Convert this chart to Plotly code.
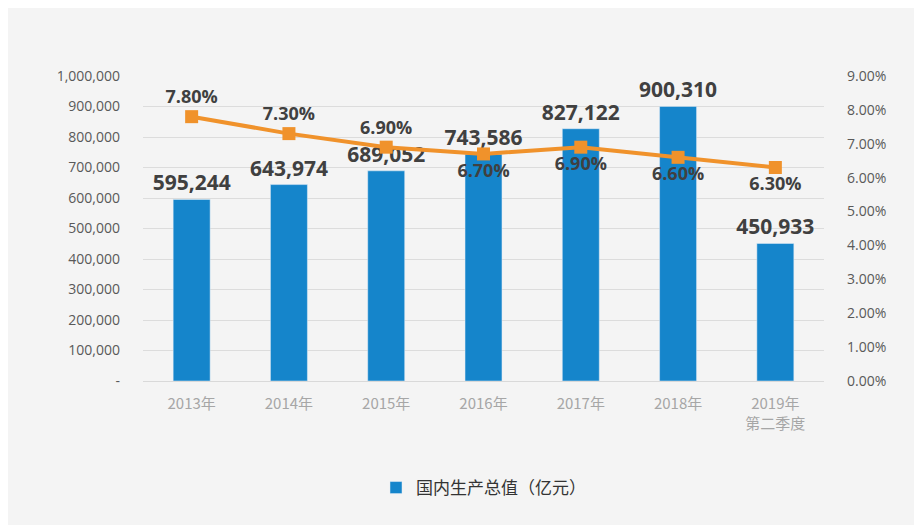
import plotly.graph_objects as go

categories = ["2013年", "2014年", "2015年", "2016年", "2017年", "2018年", "2019年<br>第二季度"]
gdp = [595244, 643974, 689052, 743586, 827122, 900310, 450933]
growth = [0.078, 0.073, 0.069, 0.067, 0.069, 0.066, 0.063]
growth_labels = ["7.80%", "7.30%", "6.90%", "6.70%", "6.90%", "6.60%", "6.30%"]
growth_label_pos = ["top center", "top center", "top center", "bottom center",
                    "bottom center", "bottom center", "bottom center"]
y1_ticks = [0, 100000, 200000, 300000, 400000, 500000, 600000, 700000, 800000, 900000, 1000000]
y1_ticktext = ["-", "100,000", "200,000", "300,000", "400,000", "500,000", "600,000",
               "700,000", "800,000", "900,000", "1,000,000"]

# page body has an 8px margin, so the figure is drawn at (8, 8)
W, H = 914, 517
ml, mr, mt, mb = 135, 98, 68, 144

fig = go.Figure()
fig.add_trace(go.Bar(
    x=categories, y=gdp, name="国内生产总值（亿元）",
    marker=dict(color="#1585cb"),
    width=0.38,
    text=[f"{v:,}" for v in gdp], textposition="outside", constraintext="none",
    textfont=dict(family="Open Sans", size=21, color="#404040", weight="bold"),
    cliponaxis=False,
))
fig.add_trace(go.Scatter(
    x=categories, y=growth, yaxis="y2", mode="lines+markers+text",
    line=dict(color="#f0922b", width=4),
    marker=dict(symbol="square", size=13, color="#f0922b"),
    text=growth_labels, textposition=growth_label_pos,
    textfont=dict(family="Open Sans", size=18, color="#404040", weight="bold"),
    showlegend=False, cliponaxis=False,
))

ph = H - mt - mb
fig.update_layout(
    width=W, height=H,
    margin=dict(l=ml, r=mr, t=mt, b=mb),
    paper_bgcolor="#f4f4f4", plot_bgcolor="#f4f4f4",
    xaxis=dict(
        tickfont=dict(family="Noto Sans CJK SC", size=15, color="#a6a6a6"),
        showgrid=False, showline=True, linecolor="#d9d9d9", linewidth=1,
        ticks="", ticklabelstandoff=9,
    ),
    yaxis=dict(
        range=[0, 1000000], tickvals=y1_ticks, ticktext=y1_ticktext,
        tickfont=dict(family="Open Sans", size=14, color="#595959"),
        gridcolor="#dcdcdc", gridwidth=1, zeroline=False,
        ticklabelstandoff=22,
    ),
    yaxis2=dict(
        range=[0, 0.09], dtick=0.01, tickformat=".2%", overlaying="y", side="right",
        tickfont=dict(family="Open Sans", size=14, color="#595959"),
        showgrid=False, zeroline=False, ticklabelstandoff=22,
    ),
    legend=dict(
        orientation="h", x=0.5, xanchor="center", y=-107 / ph, yanchor="middle",
        font=dict(family="Noto Sans CJK SC", size=17, color="#333333"),
        bgcolor="rgba(0,0,0,0)",
    ),
)

fig.write_html("out.html")
